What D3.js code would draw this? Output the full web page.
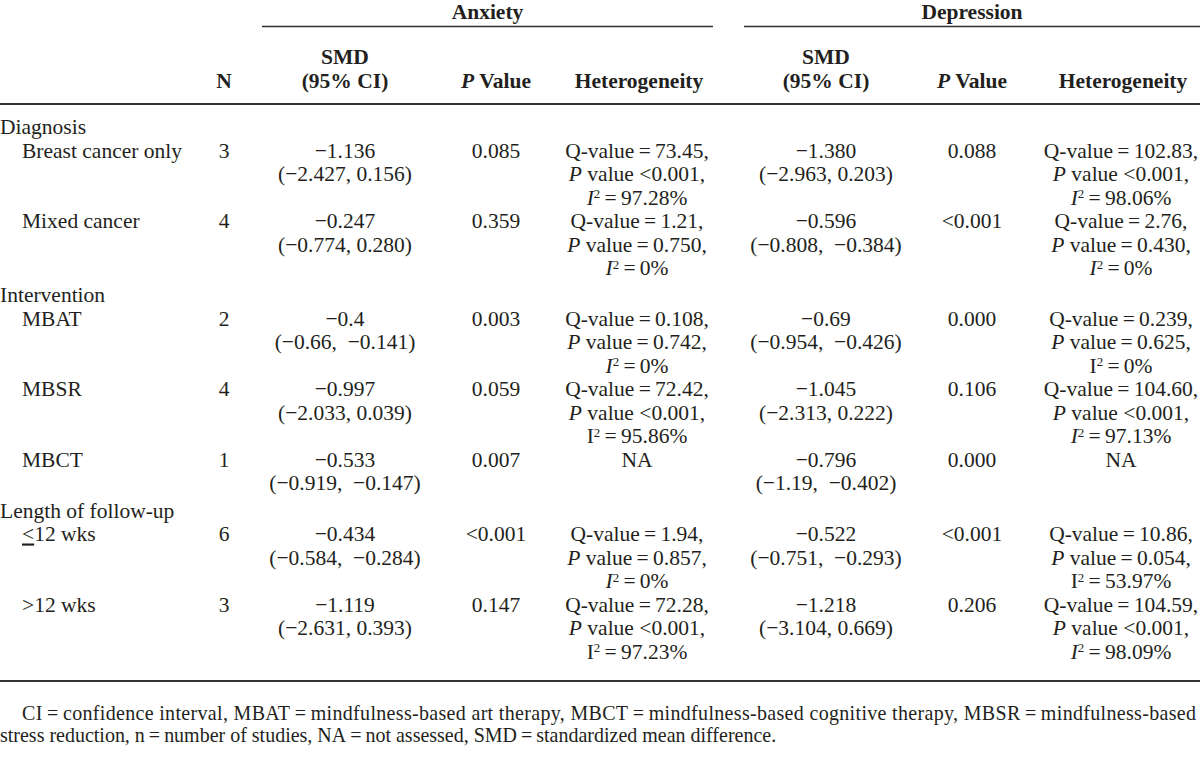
<!DOCTYPE html>
<html>
<head>
<meta charset="utf-8">
<script src="https://cdn.jsdelivr.net/npm/d3@7/dist/d3.min.js"></script>
<style>
  html, body { margin: 0; padding: 0; background: #fff; }
  svg { display: block; }
  text { font-family: "Liberation Serif", "Times New Roman", serif; fill: #231f20; white-space: pre; }
</style>
</head>
<body>
<svg id="chart" width="1200" height="761"></svg>
<script>
// ---------- data ----------
const outcomes = ["Anxiety", "Depression"];
const groups = ["Diagnosis", "Intervention", "Length of follow-up"];
const subgroups = ["Breast cancer only", "Mixed cancer", "MBAT", "MBSR", "MBCT", "≤12 wks", ">12 wks"];
const subgroupGroup = [0, 0, 1, 1, 1, 2, 2];
const nStudies = [3, 4, 2, 4, 1, 6, 3];

const anxSMD = ["−1.136", "−0.247", "−0.4", "−0.997", "−0.533", "−0.434", "−1.119"];
const anxCI = ["(−2.427, 0.156)", "(−0.774, 0.280)", "(−0.66,  −0.141)", "(−2.033, 0.039)", "(−0.919,  −0.147)", "(−0.584,  −0.284)", "(−2.631, 0.393)"];
const anxP = ["0.085", "0.359", "0.003", "0.059", "0.007", "<0.001", "0.147"];
const anxQ = ["73.45", "1.21", "0.108", "72.42", null, "1.94", "72.28"];
const anxHetP = ["<0.001", "0.750", "0.742", "<0.001", null, "0.857", "<0.001"];
const anxI2 = ["97.28%", "0%", "0%", "95.86%", null, "0%", "97.23%"];
const anxI2Italic = [true, true, true, false, null, true, false];

const depSMD = ["−1.380", "−0.596", "−0.69", "−1.045", "−0.796", "−0.522", "−1.218"];
const depCI = ["(−2.963, 0.203)", "(−0.808,  −0.384)", "(−0.954,  −0.426)", "(−2.313, 0.222)", "(−1.19,  −0.402)", "(−0.751,  −0.293)", "(−3.104, 0.669)"];
const depP = ["0.088", "<0.001", "0.000", "0.106", "0.000", "<0.001", "0.206"];
const depQ = ["102.83", "2.76", "0.239", "104.60", null, "10.86", "104.59"];
const depHetP = ["<0.001", "0.430", "0.625", "<0.001", null, "0.054", "<0.001"];
const depI2 = ["98.06%", "0%", "0%", "97.13%", null, "53.97%", "98.09%"];
const depI2Italic = [true, true, false, true, null, false, true];

const footnoteLines = [
  "CI\u2009=\u2009confidence interval, MBAT\u2009=\u2009mindfulness-based art therapy, MBCT\u2009=\u2009mindfulness-based cognitive therapy, MBSR\u2009=\u2009mindfulness-based",
  "stress reduction, n\u2009=\u2009number of studies, NA\u2009=\u2009not assessed, SMD\u2009=\u2009standardized mean difference."
];

// ---------- layout ----------
const W = 1200, H = 761;
const FS = 21.5;
const svg = d3.select("#chart");
const EQ = "\u2009=\u2009";

const colKeys = ["n", "aSMD", "aP", "aHet", "dSMD", "dP", "dHet"];
const colX = d3.scaleOrdinal().domain(colKeys).range([224, 345, 496, 637, 826, 972, 1121]);
const spanX = d3.scaleOrdinal().domain(outcomes).range([[262, 713], [744, 1200]]);

// line-slot scale: slot index -> baseline y
const yLine = d3.scaleLinear().domain([0, 1]).range([134, 157.5]);
const lineStep = yLine(1) - yLine(0);
const groupGap = 0.17;

// ---------- header ----------
const header = svg.append("g").attr("font-weight", "bold").attr("font-size", FS);
outcomes.forEach(o => {
  const [x0, x1] = spanX(o);
  header.append("text").attr("x", (x0 + x1) / 2).attr("y", 19).attr("text-anchor", "middle").text(o);
  svg.append("line").attr("x1", x0).attr("x2", x1).attr("y1", 26.5).attr("y2", 26.5)
    .attr("stroke", "#333").attr("stroke-width", 1.6);
});
header.append("text").attr("x", colX("n")).attr("y", 88).attr("text-anchor", "middle").text("N");
[["aSMD", "aP", "aHet"], ["dSMD", "dP", "dHet"]].forEach(([s, p, h]) => {
  header.append("text").attr("x", colX(s)).attr("y", 64).attr("text-anchor", "middle").text("SMD");
  header.append("text").attr("x", colX(s)).attr("y", 88).attr("text-anchor", "middle").text("(95% CI)");
  const pt = header.append("text").attr("x", colX(p)).attr("y", 88).attr("text-anchor", "middle");
  pt.append("tspan").attr("font-style", "italic").text("P");
  pt.append("tspan").text(" Value");
  header.append("text").attr("x", colX(h) + 2).attr("y", 88).attr("text-anchor", "middle").text("Heterogeneity");
});
svg.append("line").attr("x1", 0).attr("x2", W).attr("y1", 104).attr("y2", 104)
  .attr("stroke", "#333").attr("stroke-width", 2);

// ---------- body ----------
const body = svg.append("g").attr("font-size", FS);
let slot = 0;
let lastBaseline = 0;

function centered(x, y, txt) {
  return body.append("text").attr("x", x).attr("y", y).attr("text-anchor", "middle").text(txt);
}
function hetLines(x, y, q, p, i2, italic) {
  if (q === null) { centered(x, y, "NA"); return 1; }
  centered(x, y, "Q-value" + EQ + q + ",");
  const t2 = body.append("text").attr("x", x).attr("y", y + lineStep).attr("text-anchor", "middle");
  t2.append("tspan").attr("font-style", "italic").text("P");
  t2.append("tspan").text(p.startsWith("<") ? " value " + p + "," : " value" + EQ + p + ",");
  const t3 = body.append("text").attr("x", x).attr("y", y + 2 * lineStep).attr("text-anchor", "middle");
  t3.append("tspan").attr("font-style", italic ? "italic" : "normal").text("I");
  t3.append("tspan").attr("font-size", FS * 0.6).attr("dy", -6.5).text("2");
  t3.append("tspan").attr("dy", 6.5).text(EQ + i2);
  return 3;
}

groups.forEach((g, gi) => {
  body.append("text").attr("x", 0).attr("y", yLine(slot)).text(g);
  slot += 1;
  subgroups.forEach((s, i) => {
    if (subgroupGroup[i] !== gi) return;
    const y = yLine(slot);
    const lt = body.append("text").attr("x", 22).attr("y", y);
    if (s.startsWith("≤")) {
      lt.append("tspan").attr("text-decoration", "underline").text("<");
      lt.append("tspan").text(s.slice(1));
    } else lt.text(s);
    centered(colX("n"), y, nStudies[i]);
    centered(colX("aSMD"), y, anxSMD[i]);
    centered(colX("aSMD"), yLine(slot + 1), anxCI[i]);
    centered(colX("aP"), y, anxP[i]);
    const la = hetLines(colX("aHet"), y, anxQ[i], anxHetP[i], anxI2[i], anxI2Italic[i]);
    centered(colX("dSMD"), y, depSMD[i]);
    centered(colX("dSMD"), yLine(slot + 1), depCI[i]);
    centered(colX("dP"), y, depP[i]);
    const ld = hetLines(colX("dHet"), y, depQ[i], depHetP[i], depI2[i], depI2Italic[i]);
    const nl = Math.max(2, la, ld);
    lastBaseline = yLine(slot + nl - 1);
    slot += nl;
  });
  slot += groupGap;
});

const bottomY = lastBaseline + 22;
svg.append("line").attr("x1", 0).attr("x2", W).attr("y1", bottomY).attr("y2", bottomY)
  .attr("stroke", "#333").attr("stroke-width", 2);

// ---------- footnote ----------
const foot = svg.append("g").attr("font-size", FS * 0.93);
foot.append("text").attr("x", 22).attr("y", bottomY + 39)
  .attr("textLength", 1174).attr("lengthAdjust", "spacing").text(footnoteLines[0]);
foot.append("text").attr("x", 0).attr("y", bottomY + 61).text(footnoteLines[1]);
</script>
</body>
</html>
